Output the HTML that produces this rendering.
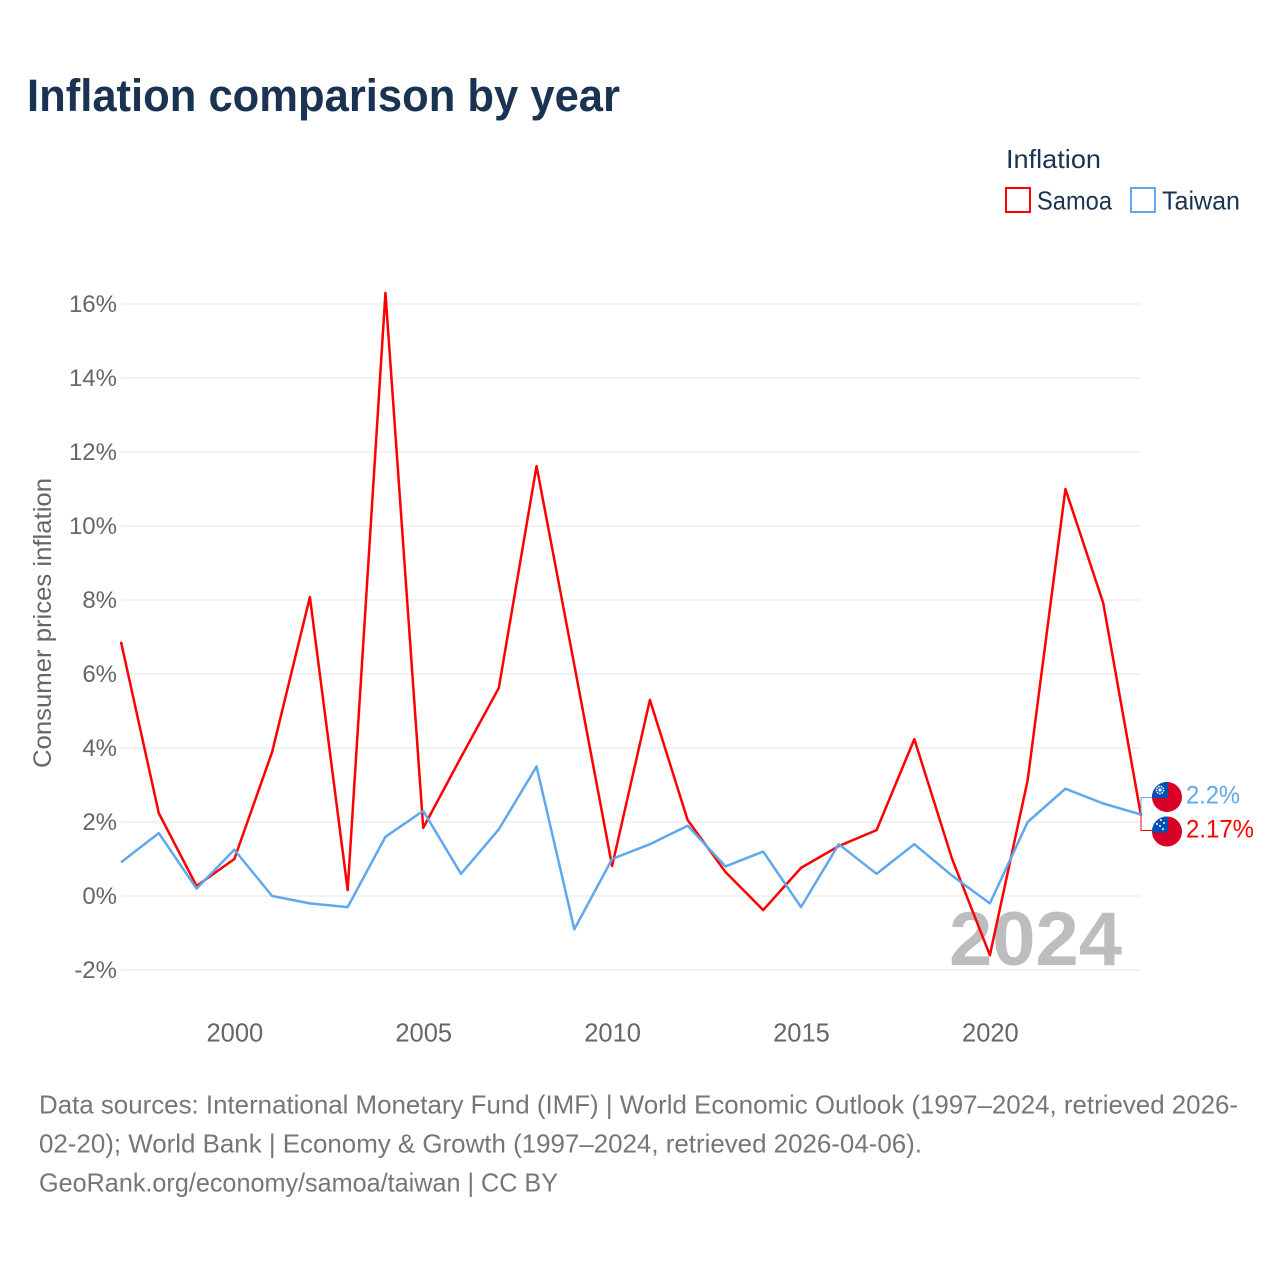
<!DOCTYPE html>
<html lang="en">
<head>
<meta charset="utf-8">
<title>Inflation comparison by year</title>
<style>
html,body{margin:0;padding:0;background:#fff;}
svg{display:block;font-family:"Liberation Sans",sans-serif;}
</style>
</head>
<body>
<svg id="chart" xmlns="http://www.w3.org/2000/svg" width="1280" height="1280" viewBox="0 0 1280 1280">
  <defs>
    <clipPath id="flag-clip-top"><circle cx="1167" cy="797" r="15"/></clipPath>
    <clipPath id="flag-clip-bottom"><circle cx="1167" cy="831.5" r="15"/></clipPath>
  </defs>
  <rect width="1280" height="1280" fill="#ffffff"/>
  <text x="27" y="111" font-size="45" font-weight="700" fill="#1a3353" textLength="593" lengthAdjust="spacingAndGlyphs">Inflation comparison by year</text>

  <text x="1006" y="168" font-size="26" fill="#1a3353" textLength="95" lengthAdjust="spacingAndGlyphs">Inflation</text>
  <rect x="1006" y="188" width="24" height="24" fill="none" stroke="#ff0000" stroke-width="2"/>
  <text x="1037" y="209.5" font-size="26" fill="#1a3353" textLength="75" lengthAdjust="spacingAndGlyphs">Samoa</text>
  <rect x="1131" y="188" width="24" height="24" fill="none" stroke="#5fa8ee" stroke-width="2"/>
  <text x="1162" y="209.5" font-size="26" fill="#1a3353" textLength="78" lengthAdjust="spacingAndGlyphs">Taiwan</text>

  <g id="grid"></g>
  <g id="y-ticks"></g>
  <g id="x-ticks"></g>
  <text transform="translate(51,768) rotate(-90)" x="0" y="0" font-size="25" fill="#666666" textLength="290" lengthAdjust="spacingAndGlyphs">Consumer prices inflation</text>

  <text x="949" y="965" font-size="76" font-weight="700" fill="#bdbdbd" textLength="173" lengthAdjust="spacingAndGlyphs">2024</text>

  <path id="line-samoa" fill="none" stroke="#ff0000" stroke-width="2.5" stroke-linejoin="round"/>
  <path id="line-taiwan" fill="none" stroke="#5fa8ee" stroke-width="2.5" stroke-linejoin="round"/>

  <path id="connector-taiwan" fill="none" stroke="#5fa8ee" stroke-width="1"/>
  <path id="connector-samoa" fill="none" stroke="#ff0000" stroke-width="1"/>

  <g clip-path="url(#flag-clip-top)">
    <rect x="1152" y="782" width="30" height="30" fill="#d80027"/>
    <rect x="1152" y="782" width="16" height="16" fill="#0052b4"/>
    <circle cx="1160" cy="790" r="3.6" fill="none" stroke="#ffffff" stroke-width="1.6" stroke-dasharray="1.5 1"/>
    <circle cx="1160" cy="790" r="1.6" fill="#ffffff"/>
  </g>
  <g clip-path="url(#flag-clip-bottom)">
    <rect x="1152" y="816.5" width="30" height="30" fill="#d80027"/>
    <rect x="1152" y="816.5" width="16" height="16" fill="#0052b4"/>
    <circle cx="1161" cy="820" r="1" fill="#ffffff"/>
    <circle cx="1157" cy="824" r="1" fill="#ffffff"/>
    <circle cx="1164" cy="823" r="1" fill="#ffffff"/>
    <circle cx="1160" cy="826" r="1" fill="#ffffff"/>
    <circle cx="1163" cy="829" r="1" fill="#ffffff"/>
  </g>
  <text id="end-label-taiwan" x="1186" y="803.5" font-size="25" fill="#5fa8ee" textLength="54" lengthAdjust="spacingAndGlyphs"></text>
  <text id="end-label-samoa" x="1186" y="837.5" font-size="25" fill="#ff0000" textLength="68" lengthAdjust="spacingAndGlyphs"></text>

  <text x="39" y="1113.5" font-size="26" fill="#767676" textLength="1199" lengthAdjust="spacingAndGlyphs">Data sources: International Monetary Fund (IMF) | World Economic Outlook (1997–2024, retrieved 2026-</text>
  <text x="39" y="1152.5" font-size="26" fill="#767676" textLength="883" lengthAdjust="spacingAndGlyphs">02-20); World Bank | Economy &amp; Growth (1997–2024, retrieved 2026-04-06).</text>
  <text x="39" y="1191.5" font-size="26" fill="#767676" textLength="519" lengthAdjust="spacingAndGlyphs">GeoRank.org/economy/samoa/taiwan | CC BY</text>
</svg>
<script>
const years = [1997,1998,1999,2000,2001,2002,2003,2004,2005,2006,2007,2008,2009,2010,2011,2012,2013,2014,2015,2016,2017,2018,2019,2020,2021,2022,2023,2024];
const samoaValues = [6.87,2.24,0.27,1.0,3.89,8.08,0.16,16.3,1.84,3.75,5.62,11.62,6.24,0.81,5.3,2.05,0.65,-0.38,0.76,1.35,1.78,4.24,1.0,-1.6,3.13,11.0,7.92,2.17];
const taiwanValues = [0.91,1.7,0.2,1.25,0,-0.2,-0.3,1.6,2.3,0.6,1.8,3.5,-0.9,1.0,1.4,1.9,0.8,1.2,-0.3,1.4,0.6,1.4,0.55,-0.2,2.0,2.9,2.5,2.2];
const yTickValues = [-2,0,2,4,6,8,10,12,14,16];
const xTickValues = [2000,2005,2010,2015,2020];

const SVG_NS = 'http://www.w3.org/2000/svg';
function xScale(year) { return 121 + (year - 1997) * (1141 - 121) / 27; }
function yScale(value) { return 896 - value * 37; }
function linePath(values) {
  return values.map(function (v, i) {
    return (i ? 'L' : 'M') + xScale(years[i]).toFixed(2) + ' ' + yScale(v).toFixed(2);
  }).join(' ');
}

const gridGroup = document.getElementById('grid');
const yTickGroup = document.getElementById('y-ticks');
yTickValues.forEach(function (v) {
  const gridLine = document.createElementNS(SVG_NS, 'line');
  
  
  gridLine.setAttribute('x1', 121);
  gridLine.setAttribute('x2', 1141);
  gridLine.setAttribute('y1', yScale(v));
  gridLine.setAttribute('y2', yScale(v));
  gridLine.setAttribute('stroke', '#ebebeb');
  gridLine.setAttribute('stroke-width', '1.2');
  gridGroup.appendChild(gridLine);

  const label = document.createElementNS(SVG_NS, 'text');
  
  
  label.setAttribute('x', 117);
  label.setAttribute('y', yScale(v) + 8);
  label.setAttribute('text-anchor', 'end');
  label.setAttribute('font-size', '24');
  label.setAttribute('fill', '#666666');
  label.textContent = v + '%';
  yTickGroup.appendChild(label);
});

const xTickGroup = document.getElementById('x-ticks');
xTickValues.forEach(function (year) {
  const label = document.createElementNS(SVG_NS, 'text');
  
  
  label.setAttribute('x', xScale(year) + 0.5);
  label.setAttribute('y', 1041.5);
  label.setAttribute('text-anchor', 'middle');
  label.setAttribute('font-size', '25.5');
  label.setAttribute('fill', '#666666');
  label.textContent = year;
  xTickGroup.appendChild(label);
});

document.getElementById('line-samoa').setAttribute('d', linePath(samoaValues));
document.getElementById('line-taiwan').setAttribute('d', linePath(taiwanValues));

const lastIndex = years.length - 1;
const endX = xScale(years[lastIndex]);
const samoaEndY = yScale(samoaValues[lastIndex]);
const taiwanEndY = yScale(taiwanValues[lastIndex]);
document.getElementById('connector-taiwan').setAttribute('d', 'M' + endX + ' ' + taiwanEndY + ' V797.5 H1152');
document.getElementById('connector-samoa').setAttribute('d', 'M' + endX + ' ' + samoaEndY + ' V830.5 H1152');
document.getElementById('end-label-taiwan').textContent = taiwanValues[lastIndex] + '%';
document.getElementById('end-label-samoa').textContent = samoaValues[lastIndex] + '%';
</script>
</body>
</html>
